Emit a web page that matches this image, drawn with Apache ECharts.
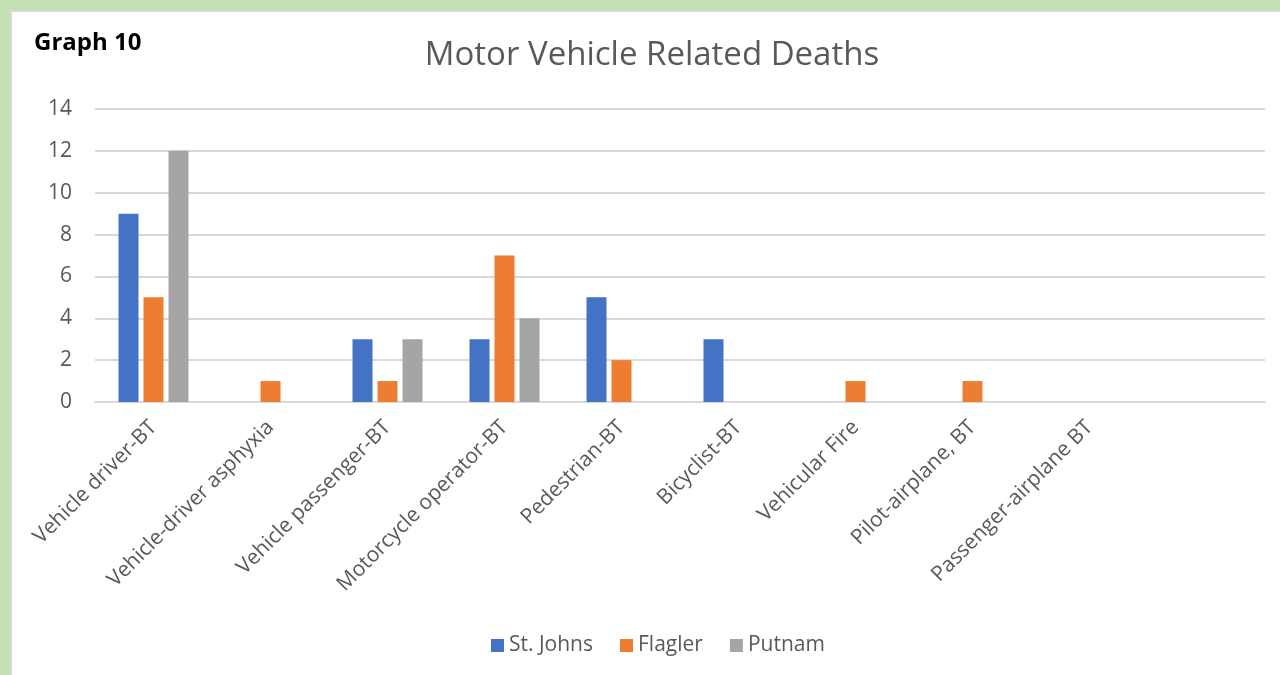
<!DOCTYPE html>
<html>
<head>
<meta charset="utf-8">
<script src="https://cdn.jsdelivr.net/npm/echarts@6/dist/echarts.min.js"></script>
<style>
  html, body { margin: 0; padding: 0; width: 1280px; height: 675px; background: #C5E0B4; overflow: hidden; }
  #frame { position: absolute; left: 10px; top: 10px; width: 1270px; height: 665px; background: #fff;
           border-left: 2px solid #d9d9d9; border-top: 2px solid #d9d9d9; box-sizing: border-box; }
  #chart { position: absolute; left: 0; top: 0; width: 1280px; height: 675px; }
</style>
</head>
<body>
<div id="frame"></div>
<div id="chart"></div>
<script>
const categories = ['Vehicle driver-BT', 'Vehicle-driver asphyxia', 'Vehicle passenger-BT', 'Motorcycle operator-BT',
  'Pedestrian-BT', 'Bicyclist-BT', 'Vehicular Fire', 'Pilot-airplane, BT', 'Passenger-airplane BT', ''];
const stJohns = [9, 0, 3, 3, 5, 3, 0, 0, 0, null];
const flagler = [5, 1, 1, 7, 2, 0, 1, 1, 0, null];
const putnam  = [12, 0, 3, 4, 0, 0, 0, 0, 0, null];
const yTicks = { min: 0, max: 14, interval: 2 };

const font = '"Open Sans", "Noto Sans", sans-serif';
const chart = echarts.init(document.getElementById('chart'), null, { renderer: 'canvas' });
const barStyle = (c) => ({ type: 'bar', barWidth: 20, barGap: '25%', itemStyle: { color: c } });
chart.setOption({
  animation: false,
  backgroundColor: 'transparent',
  textStyle: { fontFamily: font },
  title: [
    { text: 'Motor Vehicle Related Deaths', left: 647, textAlign: 'center', top: 34,
      textStyle: { fontFamily: font, fontSize: 33, fontWeight: 'normal', color: '#595959' } },
    { text: 'Graph 10', left: 29, top: 26,
      textStyle: { fontFamily: font, fontSize: 24, fontWeight: 'bold', color: '#000' } }
  ],
  legend: {
    top: 630, left: 486, itemWidth: 13, itemHeight: 13, itemGap: 27, icon: 'rect',
    textStyle: { fontFamily: font, fontSize: 21, color: '#595959' },
    data: ['St. Johns', 'Flagler', 'Putnam']
  },
  grid: { left: 95, right: 15, top: 109, bottom: 273, containLabel: false },
  xAxis: {
    type: 'category', data: categories,
    axisLine: { lineStyle: { color: '#d9d9d9', width: 2 } },
    axisTick: { show: false },
    axisLabel: { rotate: 45, interval: 0, margin: 22, fontFamily: font, fontSize: 21, color: '#595959' }
  },
  yAxis: {
    type: 'value', min: yTicks.min, max: yTicks.max, interval: yTicks.interval,
    axisLine: { show: false }, axisTick: { show: false },
    splitLine: { lineStyle: { color: '#d9d9d9', width: 2 } },
    axisLabel: { margin: 23, fontFamily: font, fontSize: 21, color: '#595959' }
  },
  series: [
    Object.assign({ name: 'St. Johns', data: stJohns }, barStyle('#4472C4')),
    Object.assign({ name: 'Flagler', data: flagler }, barStyle('#ED7D31')),
    Object.assign({ name: 'Putnam', data: putnam }, barStyle('#A5A5A5'))
  ]
});
</script>
</body>
</html>
